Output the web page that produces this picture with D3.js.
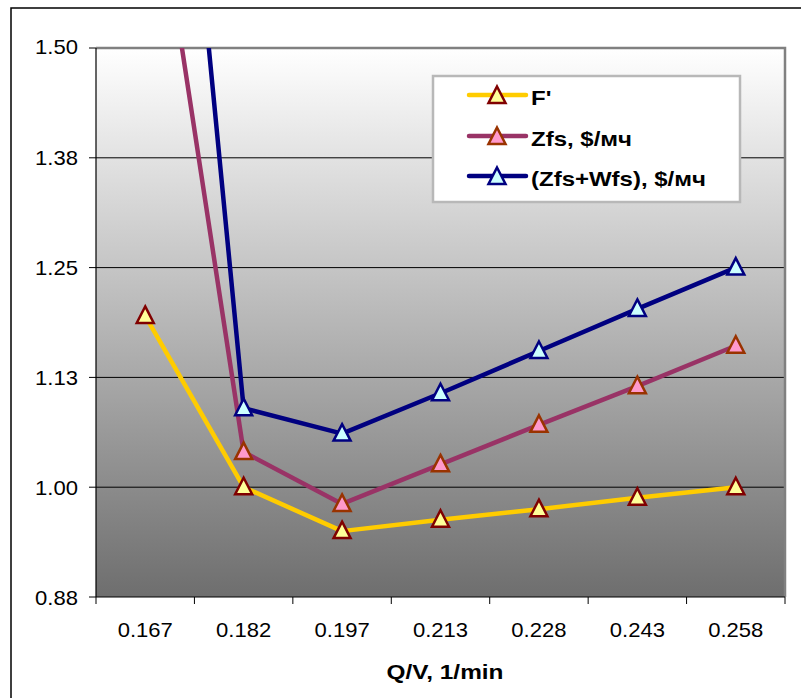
<!DOCTYPE html>
<html><head><meta charset="utf-8">
<script src="https://cdn.jsdelivr.net/npm/d3@7"></script>
<style>html,body{margin:0;padding:0;background:#fff;}svg{display:block;}</style>
</head><body>
<script>
const categories = ["0.167","0.182","0.197","0.213","0.228","0.243","0.258"];
const fPrime = [1.195, 1.000, 0.950, 0.963, 0.975, 0.988, 1.000];
const zfs = [1.774, 1.040, 0.981, 1.026, 1.071, 1.115, 1.161];
const zfsWfs = [2.249, 1.090, 1.061, 1.107, 1.155, 1.203, 1.250];
const yTicks = [0.875, 1.0, 1.125, 1.25, 1.375, 1.5];
const seriesNames = ["F'", "Zfs, $/мч", "(Zfs+Wfs), $/мч"];
const xTitle = "Q/V, 1/min";

const W = 801, H = 698;
const plot = {l: 96, r: 785, t: 48, b: 597};
const svg = d3.select("body").append("svg").attr("width", W).attr("height", H);

const series = [
  {name: seriesNames[0], values: fPrime, line: "#ffcc00", fill: "#ffff99", stroke: "#800000"},
  {name: seriesNames[1], values: zfs, line: "#993366", fill: "#ff99cc", stroke: "#993300"},
  {name: seriesNames[2], values: zfsWfs, line: "#000080", fill: "#ccffff", stroke: "#000080"}
];

// outer border
svg.append("rect").attr("x", 11).attr("y", 8).attr("width", W).attr("height", H)
  .attr("fill", "none").attr("stroke", "#000").attr("stroke-width", 1.5);

const defs = svg.append("defs");
const grad = defs.append("linearGradient").attr("id", "bg").attr("x1", 0).attr("y1", 0).attr("x2", 0).attr("y2", 1);
grad.append("stop").attr("offset", "0%").attr("stop-color", "#ffffff");
grad.append("stop").attr("offset", "100%").attr("stop-color", "#6e6e6e");
defs.append("clipPath").attr("id", "clip").append("rect")
  .attr("x", plot.l).attr("y", plot.t).attr("width", plot.r - plot.l).attr("height", plot.b - plot.t);

const x = d3.scaleBand().domain(categories).range([plot.l, plot.r]).padding(0);
const y = d3.scaleLinear().domain([0.875, 1.5]).range([plot.b, plot.t]);
const cx = c => x(c) + x.bandwidth() / 2;

svg.append("rect").attr("x", plot.l).attr("y", plot.t).attr("width", plot.r - plot.l).attr("height", plot.b - plot.t)
  .attr("fill", "url(#bg)");

// gridlines
svg.append("g").selectAll("line").data(yTicks.filter(t => t > 0.875 && t < 1.5)).join("line")
  .attr("x1", plot.l).attr("x2", plot.r).attr("y1", d => y(d)).attr("y2", d => y(d))
  .attr("stroke", "#000").attr("stroke-width", 1);

// plot border top/right
svg.append("path").attr("d", `M${plot.l},${plot.t}H${plot.r}V${plot.b}`)
  .attr("fill", "none").attr("stroke", "#808080").attr("stroke-width", 2.5);

// y axis
const yAxis = svg.append("g");
yAxis.append("line").attr("x1", plot.l).attr("x2", plot.l).attr("y1", plot.t).attr("y2", plot.b).attr("stroke", "#000").attr("stroke-width", 1.2);
yAxis.selectAll("line.tk").data(yTicks).join("line").attr("class", "tk")
  .attr("x1", plot.l - 7).attr("x2", plot.l).attr("y1", d => y(d)).attr("y2", d => y(d)).attr("stroke", "#000").attr("stroke-width", 1);
yAxis.selectAll("text").data(yTicks).join("text")
  .attr("transform", d => `translate(78,${y(d) + 7.5 - (d === 1.5 ? 1.5 : 0)}) scale(1.05,1)`)
  .attr("text-anchor", "end").attr("font-family", "Liberation Sans, Arial, sans-serif").attr("font-size", 21)
  .attr("fill", "#000").text(d => d3.format(".2f")(d));

// x axis
const xAxis = svg.append("g");
xAxis.append("line").attr("x1", plot.l).attr("x2", plot.r).attr("y1", plot.b).attr("y2", plot.b).attr("stroke", "#000").attr("stroke-width", 1.2);
const edges = categories.map(c => x(c)).concat([x(categories[categories.length - 1]) + x.bandwidth()]);
xAxis.selectAll("line.tk").data(edges).join("line").attr("class", "tk")
  .attr("x1", d => d).attr("x2", d => d).attr("y1", plot.b).attr("y2", plot.b + 7).attr("stroke", "#000").attr("stroke-width", 1);
xAxis.selectAll("text").data(categories).join("text")
  .attr("transform", d => `translate(${cx(d)},637) scale(1.05,1)`)
  .attr("text-anchor", "middle").attr("font-family", "Liberation Sans, Arial, sans-serif").attr("font-size", 21)
  .attr("fill", "#000").text(d => d);

svg.append("text").attr("transform", `translate(445,679) scale(1.22,1)`)
  .attr("text-anchor", "middle").attr("font-family", "Liberation Sans, Arial, sans-serif").attr("font-size", 20)
  .attr("font-weight", "bold").attr("fill", "#000").text(xTitle);

const tri = "M0,-9.5L8.5,7L-8.5,7Z";
const line = d3.line().x((d, i) => cx(categories[i])).y(d => y(d));
const g = svg.append("g").attr("clip-path", "url(#clip)");
series.forEach(s => {
  g.append("path").attr("d", line(s.values)).attr("fill", "none").attr("stroke", s.line)
    .attr("stroke-width", 4.5).attr("stroke-linejoin", "round");
});
series.forEach(s => {
  g.selectAll(null).data(s.values).join("path")
    .attr("d", tri).attr("transform", (d, i) => `translate(${cx(categories[i])},${y(d)})`)
    .attr("fill", s.fill).attr("stroke", s.stroke).attr("stroke-width", 2.5).attr("stroke-linejoin", "miter");
});

// legend
const lg = svg.append("g");
lg.append("rect").attr("x", 433).attr("y", 76).attr("width", 307).attr("height", 126)
  .attr("fill", "#fff").attr("stroke", "#b8b8b8").attr("stroke-width", 2.5);
const rowsY = [95, 136, 176];
series.forEach((s, i) => {
  lg.append("line").attr("x1", 469).attr("x2", 526).attr("y1", rowsY[i]).attr("y2", rowsY[i])
    .attr("stroke", s.line).attr("stroke-width", 4.5).attr("stroke-linecap", "round");
  lg.append("path").attr("d", tri).attr("transform", `translate(497,${rowsY[i] + 1})`)
    .attr("fill", s.fill).attr("stroke", s.stroke).attr("stroke-width", 2.5);
  lg.append("text").attr("transform", `translate(531,${rowsY[i] + 10}) scale(1.2,1)`)
    .attr("font-family", "Liberation Sans, Arial, sans-serif").attr("font-size", 20).attr("font-weight", "bold")
    .attr("fill", "#000").text(s.name);
});
</script>
</body></html>
